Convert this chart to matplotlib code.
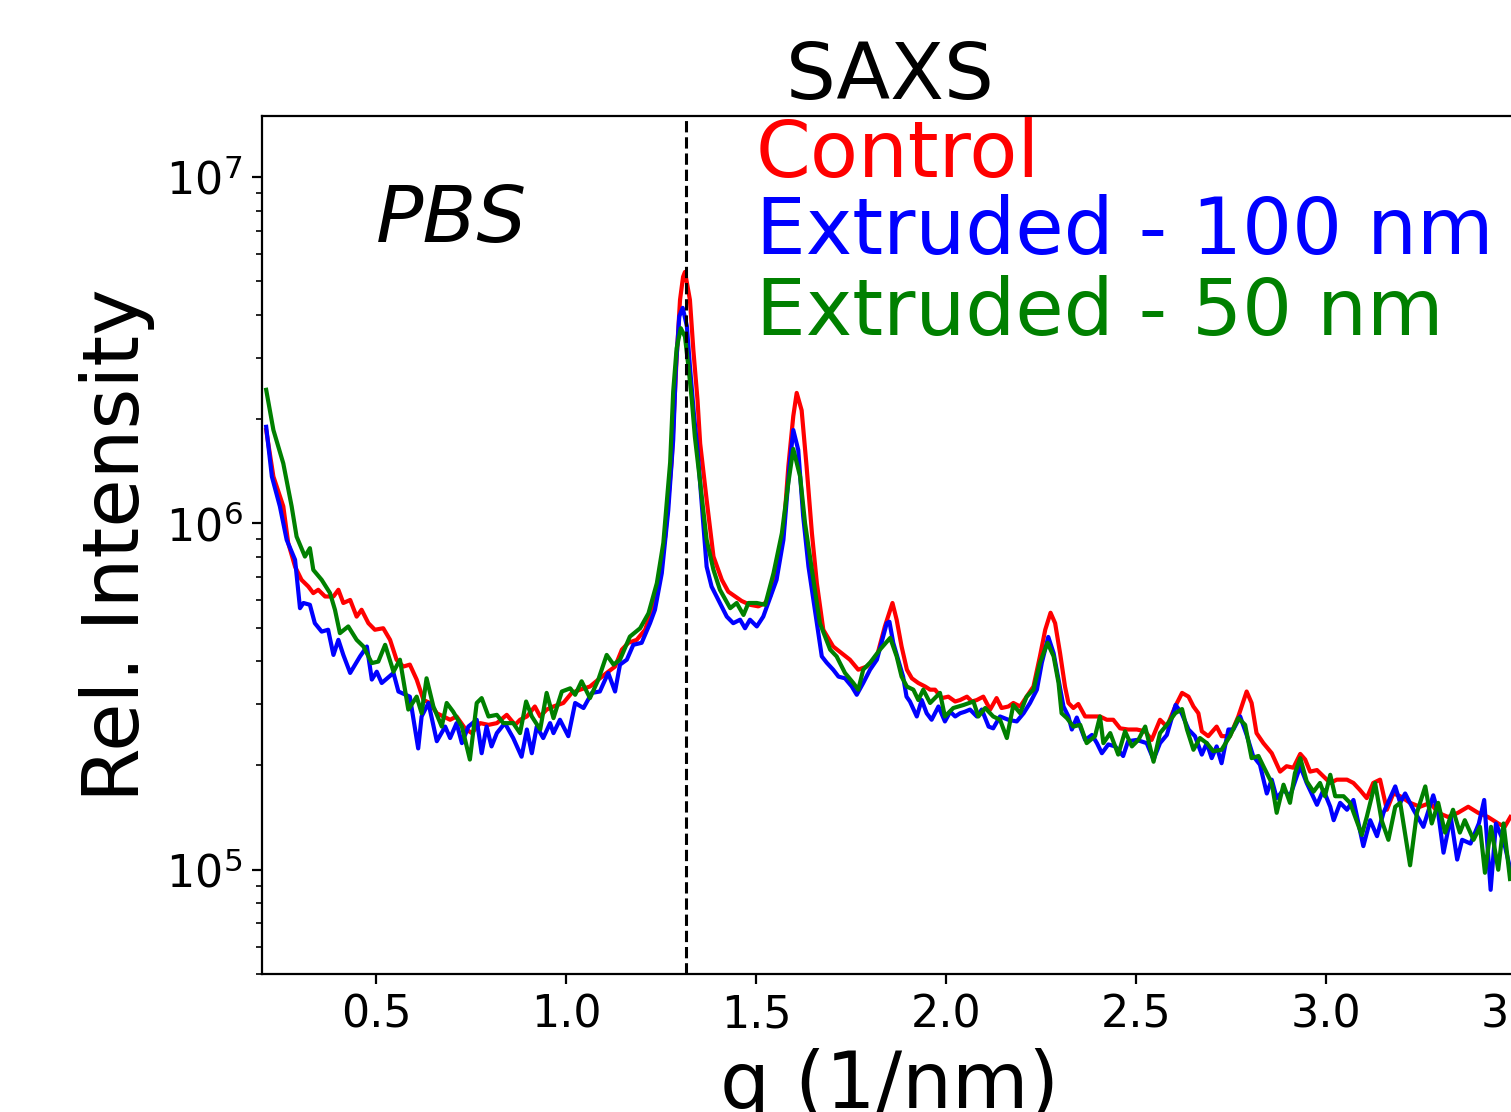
from __future__ import annotations

import matplotlib

matplotlib.use("Agg")
import matplotlib.pyplot as plt
from matplotlib.ticker import MultipleLocator


# values, intensity in units of 1e5
Q_CONTROL = [
    0.211, 0.230, 0.256, 0.269, 0.287, 0.304, 0.322, 0.335, 0.348, 0.366,
    0.388, 0.401, 0.414, 0.432, 0.449, 0.462, 0.480, 0.497, 0.519, 0.537,
    0.554, 0.572, 0.589, 0.607, 0.625, 0.642, 0.660, 0.677, 0.695, 0.712,
    0.734, 0.752, 0.774, 0.796, 0.818, 0.844, 0.866, 0.879, 0.897, 0.918,
    0.932, 0.949, 0.967, 0.993, 1.015, 1.037, 1.063, 1.085, 1.107, 1.129,
    1.147, 1.164, 1.186, 1.208, 1.226, 1.243, 1.261, 1.278, 1.291, 1.300,
    1.308, 1.313, 1.326, 1.335, 1.346, 1.353, 1.370, 1.388, 1.410, 1.427,
    1.445, 1.462, 1.484, 1.506, 1.524, 1.537, 1.554, 1.572, 1.585, 1.598,
    1.607, 1.620, 1.633, 1.647, 1.660, 1.677, 1.703, 1.725, 1.747, 1.769,
    1.791, 1.818, 1.839, 1.859, 1.870, 1.883, 1.897, 1.910, 1.927, 1.945,
    1.958, 1.971, 1.989, 2.006, 2.024, 2.037, 2.055, 2.068, 2.081, 2.098,
    2.116, 2.133, 2.146, 2.164, 2.177, 2.195, 2.212, 2.230, 2.247, 2.261,
    2.275, 2.287, 2.300, 2.313, 2.322, 2.335, 2.348, 2.366, 2.384, 2.405,
    2.423, 2.440, 2.458, 2.479, 2.502, 2.524, 2.541, 2.563, 2.581, 2.603,
    2.621, 2.638, 2.651, 2.664, 2.673, 2.690, 2.712, 2.725, 2.747, 2.769,
    2.791, 2.804, 2.817, 2.835, 2.857, 2.879, 2.896, 2.914, 2.932, 2.945,
    2.958, 2.976, 2.993, 3.011, 3.028, 3.055, 3.072, 3.089, 3.107, 3.124,
    3.142, 3.160, 3.177, 3.195, 3.221, 3.247, 3.274, 3.295, 3.321, 3.347,
    3.374, 3.400, 3.426, 3.453, 3.470, 3.485,
]
I_CONTROL = [
    18.6, 13.65, 11.2, 8.77, 7.50, 6.87, 6.57, 6.29, 6.43, 6.15,
    6.15, 6.43, 5.89, 6.01, 5.38, 5.63, 5.15, 4.93, 4.98, 4.61,
    4.04, 3.86, 3.91, 3.54, 3.09, 3.03, 2.83, 2.77, 2.71, 2.77,
    2.56, 2.48, 2.65, 2.62, 2.65, 2.80, 2.62, 2.71, 2.77, 2.96,
    2.77, 2.90, 2.96, 3.03, 3.24, 3.31, 3.38, 3.54, 3.70, 3.86,
    4.32, 4.52, 4.61, 4.93, 5.63, 6.87, 9.16, 15.2, 30.0, 44.2,
    51.5, 53.2, 44.2, 31.7, 22.7, 17.0, 11.7, 8.02, 6.87, 6.35,
    6.15, 5.97, 5.82, 5.76, 5.89, 6.15, 7.18, 9.37, 14.6, 20.4,
    23.8, 21.2, 14.6, 9.37, 6.72, 4.93, 4.41, 4.22, 4.04, 3.78,
    3.86, 4.13, 5.04, 5.89, 5.27, 4.41, 3.78, 3.57, 3.46, 3.38,
    3.31, 3.31, 3.13, 3.16, 3.06, 3.09, 3.16, 3.06, 3.09, 3.16,
    2.90, 3.13, 2.93, 2.96, 3.03, 2.96, 3.16, 3.38, 4.13, 4.93,
    5.52, 5.15, 4.22, 3.38, 3.03, 2.93, 3.01, 2.77, 2.77, 2.77,
    2.71, 2.71, 2.56, 2.54, 2.54, 2.51, 2.37, 2.71, 2.59, 2.96,
    3.24, 3.16, 2.96, 2.83, 2.51, 2.43, 2.59, 2.43, 2.43, 2.77,
    3.27, 3.03, 2.48, 2.32, 2.17, 1.92, 1.99, 1.97, 2.16, 2.08,
    1.92, 1.94, 1.86, 1.78, 1.82, 1.82, 1.78, 1.70, 1.61, 1.78,
    1.82, 1.49, 1.66, 1.63, 1.56, 1.52, 1.56, 1.46, 1.42, 1.46,
    1.52, 1.46, 1.42, 1.36, 1.33, 1.42,
]

Q_100NM = [
    0.211, 0.226, 0.247, 0.265, 0.287, 0.300, 0.309, 0.326, 0.339, 0.357,
    0.374, 0.388, 0.401, 0.414, 0.432, 0.445, 0.458, 0.476, 0.489, 0.502,
    0.515, 0.546, 0.559, 0.589, 0.611, 0.620, 0.638, 0.660, 0.682, 0.695,
    0.712, 0.726, 0.743, 0.765, 0.778, 0.791, 0.804, 0.818, 0.839, 0.861,
    0.883, 0.897, 0.910, 0.923, 0.940, 0.958, 0.967, 0.984, 1.006, 1.024,
    1.046, 1.068, 1.089, 1.111, 1.129, 1.142, 1.160, 1.177, 1.199, 1.221,
    1.234, 1.252, 1.269, 1.282, 1.289, 1.298, 1.307, 1.318, 1.326, 1.337,
    1.346, 1.370, 1.383, 1.405, 1.423, 1.440, 1.458, 1.471, 1.484, 1.502,
    1.519, 1.532, 1.554, 1.572, 1.588, 1.598, 1.611, 1.624, 1.638, 1.660,
    1.673, 1.686, 1.703, 1.717, 1.734, 1.752, 1.765, 1.782, 1.800, 1.818,
    1.844, 1.851, 1.861, 1.874, 1.887, 1.896, 1.905, 1.923, 1.936, 1.949,
    1.962, 1.980, 1.997, 2.011, 2.024, 2.037, 2.050, 2.063, 2.081, 2.094,
    2.112, 2.124, 2.142, 2.164, 2.186, 2.204, 2.221, 2.239, 2.252, 2.269,
    2.283, 2.296, 2.309, 2.322, 2.331, 2.344, 2.366, 2.384, 2.397, 2.410,
    2.427, 2.445, 2.466, 2.479, 2.502, 2.528, 2.546, 2.563, 2.581, 2.604,
    2.620, 2.638, 2.655, 2.673, 2.686, 2.699, 2.712, 2.725, 2.743, 2.756,
    2.774, 2.791, 2.808, 2.826, 2.844, 2.857, 2.870, 2.888, 2.905, 2.932,
    2.949, 2.976, 2.993, 3.011, 3.020, 3.037, 3.055, 3.072, 3.098, 3.116,
    3.134, 3.151, 3.182, 3.195, 3.208, 3.230, 3.256, 3.282, 3.295, 3.309,
    3.328, 3.345, 3.358, 3.380, 3.402, 3.416, 3.433, 3.447, 3.469, 3.485,
]
I_100NM = [
    19.0, 13.65, 11.2, 8.96, 7.85, 5.69, 5.89, 5.82, 5.15, 4.87,
    4.93, 4.17, 4.61, 4.17, 3.70, 3.91, 4.13, 4.41, 3.54, 3.73,
    3.46, 3.70, 3.27, 3.16, 2.24, 2.77, 3.03, 2.35, 2.59, 2.40,
    2.65, 2.32, 2.59, 2.71, 2.17, 2.59, 2.27, 2.48, 2.65, 2.40,
    2.12, 2.54, 2.17, 2.59, 2.40, 2.65, 2.48, 2.71, 2.43, 3.03,
    2.93, 3.24, 3.27, 3.70, 3.27, 3.91, 4.04, 4.46, 4.52, 5.15,
    5.63, 7.18, 10.9, 17.4, 28.0, 39.6, 41.9, 37.1, 28.4, 20.4,
    16.3, 7.50, 6.57, 5.89, 5.38, 5.15, 5.27, 4.98, 5.27, 5.04,
    5.38, 5.89, 6.87, 8.96, 14.6, 18.6, 16.3, 10.5, 7.50, 5.15,
    4.13, 3.96, 3.78, 3.61, 3.57, 3.38, 3.20, 3.46, 3.78, 4.04,
    5.15, 5.20, 4.52, 4.04, 3.61, 3.16, 3.06, 2.77, 3.09, 2.83,
    2.71, 2.96, 2.68, 2.86, 2.77, 2.83, 2.86, 2.90, 2.77, 2.90,
    2.59, 2.56, 2.77, 2.71, 2.68, 2.83, 3.03, 3.31, 3.96, 4.70,
    4.22, 3.53, 2.96, 2.77, 2.54, 2.75, 2.37, 2.45, 2.32, 2.17,
    2.30, 2.27, 2.13, 2.35, 2.37, 2.32, 2.08, 2.32, 2.45, 2.99,
    2.83, 2.54, 2.43, 2.15, 2.32, 2.10, 2.27, 2.03, 2.54, 2.54,
    2.77, 2.45, 2.13, 2.01, 1.66, 1.82, 1.61, 1.70, 1.63, 1.99,
    1.78, 1.54, 1.70, 1.52, 1.39, 1.56, 1.49, 1.59, 1.17, 1.39,
    1.25, 1.46, 1.74, 1.56, 1.66, 1.49, 1.33, 1.64, 1.46, 1.12,
    1.42, 1.07, 1.22, 1.19, 1.36, 1.59, 0.875, 1.36, 1.19, 1.00,
]

Q_50NM = [
    0.211, 0.230, 0.256, 0.278, 0.291, 0.313, 0.326, 0.335, 0.357, 0.379,
    0.392, 0.405, 0.427, 0.449, 0.467, 0.489, 0.506, 0.524, 0.546, 0.563,
    0.585, 0.607, 0.620, 0.633, 0.651, 0.673, 0.686, 0.703, 0.726, 0.747,
    0.765, 0.778, 0.796, 0.818, 0.835, 0.861, 0.879, 0.895, 0.910, 0.932,
    0.949, 0.967, 0.989, 1.011, 1.024, 1.041, 1.063, 1.085, 1.107, 1.125,
    1.142, 1.168, 1.195, 1.217, 1.239, 1.256, 1.274, 1.282, 1.291, 1.302,
    1.313, 1.322, 1.331, 1.339, 1.353, 1.370, 1.388, 1.405, 1.432, 1.449,
    1.467, 1.480, 1.502, 1.524, 1.546, 1.568, 1.585, 1.598, 1.616, 1.629,
    1.647, 1.668, 1.695, 1.712, 1.734, 1.756, 1.769, 1.782, 1.800, 1.826,
    1.853, 1.870, 1.883, 1.897, 1.914, 1.927, 1.940, 1.958, 1.984, 1.997,
    2.019, 2.046, 2.072, 2.085, 2.103, 2.124, 2.142, 2.160, 2.177, 2.195,
    2.212, 2.230, 2.247, 2.267, 2.283, 2.296, 2.304, 2.318, 2.335, 2.353,
    2.370, 2.392, 2.405, 2.414, 2.432, 2.453, 2.471, 2.489, 2.506, 2.524,
    2.546, 2.563, 2.581, 2.603, 2.621, 2.634, 2.651, 2.668, 2.686, 2.703,
    2.725, 2.747, 2.769, 2.787, 2.804, 2.822, 2.835, 2.857, 2.870, 2.888,
    2.905, 2.918, 2.932, 2.949, 2.967, 2.984, 2.997, 3.011, 3.024, 3.046,
    3.063, 3.094, 3.107, 3.129, 3.146, 3.164, 3.182, 3.195, 3.221, 3.239,
    3.261, 3.278, 3.295, 3.313, 3.334, 3.352, 3.365, 3.388, 3.405, 3.418,
    3.434, 3.453, 3.467, 3.484,
]
I_50NM = [
    24.3, 18.6, 14.9, 11.2, 9.16, 8.02, 8.48, 7.34, 6.87, 6.29,
    5.63, 4.82, 5.04, 4.61, 4.41, 3.95, 3.99, 4.46, 3.73, 4.04,
    2.90, 3.16, 2.83, 3.57, 2.96, 2.59, 3.03, 2.86, 2.59, 2.08,
    3.03, 3.13, 2.77, 2.80, 2.65, 2.65, 2.48, 3.06, 2.77, 2.54,
    3.24, 2.74, 3.27, 3.34, 3.20, 3.50, 3.13, 3.54, 4.17, 3.91,
    4.04, 4.71, 4.98, 5.50, 6.72, 8.77, 15.0, 24.0, 32.0, 36.6,
    34.6, 28.4, 22.7, 17.8, 13.1, 8.96, 7.34, 6.43, 5.69, 5.89,
    5.44, 5.89, 5.89, 5.82, 7.18, 9.37, 13.1, 16.4, 13.65, 10.0,
    7.34, 5.15, 4.32, 4.13, 3.70, 3.46, 3.31, 3.78, 3.96, 4.32,
    4.67, 4.13, 3.61, 3.38, 3.31, 3.09, 3.31, 3.03, 3.24, 2.77,
    2.93, 2.99, 3.06, 2.77, 2.93, 2.77, 2.71, 2.40, 2.99, 2.83,
    3.16, 3.31, 3.96, 4.52, 4.13, 3.46, 2.83, 2.74, 2.59, 2.62,
    2.32, 2.43, 2.77, 2.32, 2.48, 2.15, 2.51, 2.27, 2.37, 2.59,
    2.05, 2.48, 2.62, 2.83, 2.91, 2.54, 2.22, 2.40, 2.32, 2.20,
    2.22, 2.43, 2.74, 2.62, 2.10, 2.13, 1.99, 1.78, 1.46, 1.76,
    1.56, 1.90, 2.10, 1.80, 1.68, 1.78, 1.63, 1.88, 1.63, 1.63,
    1.56, 1.26, 1.42, 1.78, 1.39, 1.22, 1.52, 1.56, 1.03, 1.46,
    1.74, 1.36, 1.56, 1.28, 1.49, 1.28, 1.39, 1.22, 1.33, 0.98,
    1.33, 1.00, 1.36, 0.94,
]

SERIES = [
    ("Control", Q_CONTROL, I_CONTROL, "red"),
    ("Extruded - 100 nm", Q_100NM, I_100NM, "blue"),
    ("Extruded - 50 nm", Q_50NM, I_50NM, "green"),
]
LABEL_Y = [1.0e7, 6.0e6, 3.5e6]
PEAK_Q = 1.316
SCALE = 1e5
BIG = 28.3


def main() -> None:
    fig = plt.figure(figsize=(7.555, 5.56), dpi=200)
    fig.patch.set_facecolor("white")
    # axes run slightly past the right edge of the picture, like the source crop
    ax = fig.add_axes([262 / 1511, 138 / 1112, 1256 / 1511, 858 / 1112])

    for (label, q, inten, color), ly in zip(SERIES, LABEL_Y):
        ax.plot(q, [v * SCALE for v in inten], color=color, linewidth=1.5)
        ax.text(1.5, ly, label, color=color, fontsize=BIG, va="baseline", ha="left")

    ax.axvline(PEAK_Q, color="black", linestyle="--", linewidth=1.1)
    ax.text(0.5, 6.5e6, "PBS", fontsize=BIG, style="italic", va="baseline")

    ax.set_yscale("log")
    ax.set_xlim(0.2, 3.505)
    ax.set_ylim(5e4, 1.5e7)
    ax.xaxis.set_major_locator(MultipleLocator(0.5))
    ax.tick_params(axis="both", which="major", labelsize=16)

    ax.set_title("SAXS", fontsize=BIG)
    ax.set_xlabel("q (1/nm)", fontsize=BIG)
    ax.set_ylabel("Rel. Intensity", fontsize=BIG)

    fig.savefig("out.png", dpi=200)
    plt.close(fig)


if __name__ == "__main__":
    main()
